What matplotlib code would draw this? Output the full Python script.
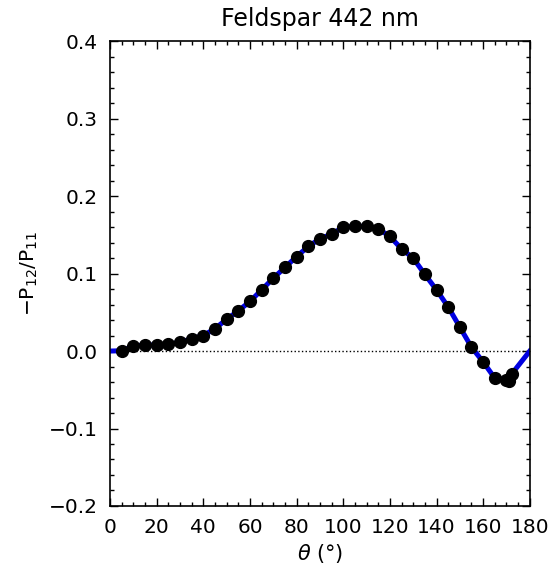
import numpy as np
import matplotlib.pyplot as plt
from matplotlib.ticker import MultipleLocator

# measured points (scattering angle in degrees, -P12/P11)
angle = [5, 10, 15, 20, 25, 30, 35, 40, 45, 50, 55, 60, 65, 70, 75, 80,
         85, 90, 95, 100, 105, 110, 115, 120, 125, 130, 135, 140, 145, 150,
         155, 160, 165, 170, 171, 172.4]
ratio = [0.0004, 0.0065, 0.0078, 0.0078, 0.0087, 0.0113, 0.016, 0.020, 0.029,
         0.041, 0.052, 0.064, 0.079, 0.094, 0.108, 0.122,
         0.135, 0.145, 0.151, 0.160, 0.161, 0.161, 0.158, 0.148, 0.132,
         0.120, 0.099, 0.079, 0.057, 0.031, 0.005, -0.014, -0.035, -0.037,
         -0.039, -0.029]

# fitted curve, pinned to zero at 0 and 180 degrees
fit_angle = [0] + angle + [180]
fit_ratio = [0.0] + ratio + [0.0]

plt.rcParams['font.family'] = 'DejaVu Sans'

fig = plt.figure(figsize=(5.53, 5.73), dpi=100)
ax = fig.add_axes([0.199, 0.117, 0.759, 0.811])

ax.plot([0, 180], [0, 0], color='black', linestyle=':', linewidth=1.0)
ax.plot(fit_angle, fit_ratio, color='#0000e0', linewidth=3.6, zorder=2)
ax.plot(angle, ratio, 'o', color='black', markersize=8.5, zorder=3)

ax.set_xlim(0, 180)
ax.set_ylim(-0.2, 0.4)
ax.xaxis.set_major_locator(MultipleLocator(20))
ax.xaxis.set_minor_locator(MultipleLocator(5))
ax.yaxis.set_major_locator(MultipleLocator(0.1))
ax.yaxis.set_minor_locator(MultipleLocator(0.02))
ax.set_yticklabels([f'{v:.1f}'.replace('-', '\u2212') for v in ax.get_yticks()])

ax.tick_params(which='both', direction='in', top=True, right=True,
               labelsize=14.5, color='black', width=1)
ax.tick_params(which='major', length=6, pad=9)
ax.tick_params(which='minor', length=3)
for s in ax.spines.values():
    s.set_linewidth(1.2)

ax.set_title('Feldspar 442 nm', fontsize=17, pad=11)
ax.set_xlabel(r'$\theta$ (°)', fontsize=15, labelpad=3)
ax.set_ylabel(r'$-$P$_{12}$/P$_{11}$', fontsize=14.5, labelpad=6)

fig.savefig('out.png', dpi=100)
